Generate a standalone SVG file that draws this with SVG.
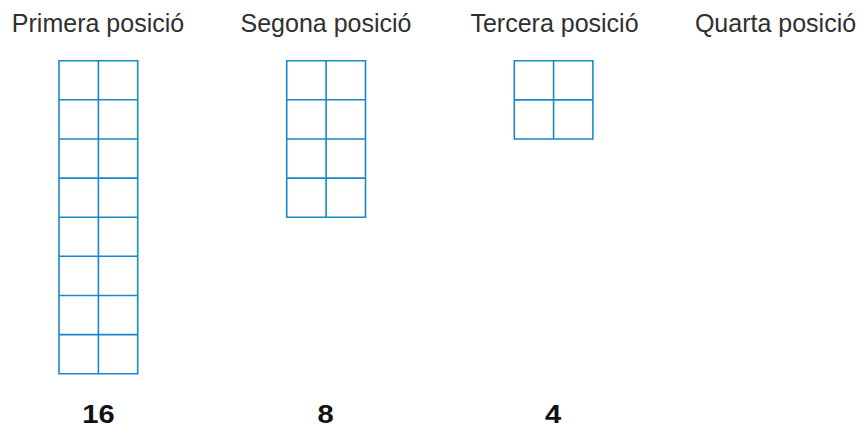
<svg xmlns="http://www.w3.org/2000/svg" width="867" height="432" viewBox="0 0 867 432">
<style>
.title{font-family:"Liberation Sans",Arial,sans-serif;font-size:25px;fill:#303030;text-anchor:middle}
.num{font-family:"Liberation Sans",Arial,sans-serif;font-size:26px;font-weight:bold;fill:#111;text-anchor:middle}
.grid{fill:none;stroke:#1a87c9;stroke-width:1.6}
</style>
<rect width="867" height="432" fill="#fff"/>
<g id="pos1">
<text class="title" x="98" y="31.5">Primera posició</text>
<path class="grid" d="M59,60.7H137.7V373.7H59Z M98.4,60.7V373.7 M59,99.8H137.7 M59,138.95H137.7 M59,178.1H137.7 M59,217.2H137.7 M59,256.3H137.7 M59,295.45H137.7 M59,334.6H137.7"/>
<text class="num" transform="translate(98.5 423) scale(1.12 1)" x="0" y="0">16</text>
</g>
<g id="pos2">
<text class="title" x="326" y="31.5">Segona posició</text>
<path class="grid" d="M286.7,60.7H365.5V217.2H286.7Z M326.1,60.7V217.2 M286.7,99.8H365.5 M286.7,138.95H365.5 M286.7,178.1H365.5"/>
<text class="num" transform="translate(325.5 423) scale(1.12 1)" x="0" y="0">8</text>
</g>
<g id="pos3">
<text class="title" x="554.5" y="31.5">Tercera posició</text>
<path class="grid" d="M514.3,60.7H592.9V139H514.3Z M553.6,60.7V139 M514.3,99.85H592.9"/>
<text class="num" transform="translate(553 423) scale(1.12 1)" x="0" y="0">4</text>
</g>
<g id="pos4">
<text class="title" x="775.5" y="31.5">Quarta posició</text>
</g>
</svg>
